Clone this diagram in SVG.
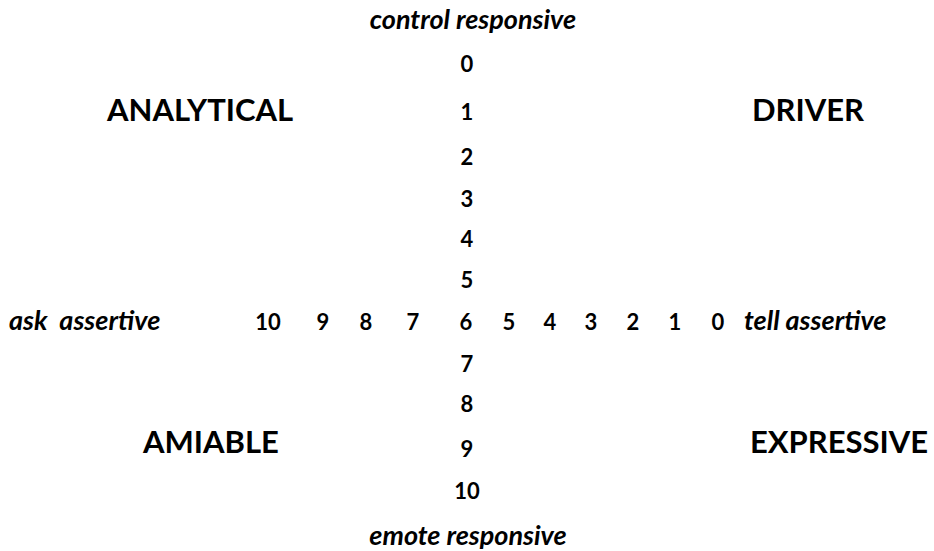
<svg xmlns="http://www.w3.org/2000/svg" width="934" height="551" viewBox="0 0 934 551">
<style>
text{font-family:Lato,"Open Sans","Liberation Sans",sans-serif;font-weight:bold;fill:#000}
.n{font-size:22px;text-anchor:middle}
.q{font-size:31px}
.i{font-size:27px;font-style:italic}
</style>
<rect width="934" height="551" fill="#fff"/>
<g id="axis-vertical">
<text class="i" x="473" y="29" text-anchor="middle">control responsive</text>
<text class="n" x="467" y="72">0</text>
<text class="n" x="467" y="120">1</text>
<text class="n" x="467" y="165">2</text>
<text class="n" x="467" y="207">3</text>
<text class="n" x="467" y="247">4</text>
<text class="n" x="467" y="288">5</text>
<text class="n" x="467" y="372">7</text>
<text class="n" x="467" y="412">8</text>
<text class="n" x="467" y="457">9</text>
<text class="n" x="467" y="499">10</text>
<text class="i" x="468" y="545" text-anchor="middle">emote responsive</text>
</g>
<g id="axis-horizontal">
<text class="i" x="9" y="330" xml:space="preserve">ask  assertive</text>
<text class="n" x="268" y="330">10</text>
<text class="n" x="323" y="330">9</text>
<text class="n" x="366" y="330">8</text>
<text class="n" x="413" y="330">7</text>
<text class="n" x="466" y="330">6</text>
<text class="n" x="509" y="330">5</text>
<text class="n" x="550" y="330">4</text>
<text class="n" x="591" y="330">3</text>
<text class="n" x="633" y="330">2</text>
<text class="n" x="675" y="330">1</text>
<text class="n" x="718" y="330">0</text>
<text class="i" x="744" y="330">tell assertive</text>
</g>
<g id="analytical"><text class="q" x="107" y="121">ANALYTICAL</text></g>
<g id="driver"><text class="q" x="752" y="121">DRIVER</text></g>
<g id="amiable"><text class="q" x="143" y="453">AMIABLE</text></g>
<g id="expressive"><text class="q" x="750" y="453">EXPRESSIVE</text></g>
</svg>
